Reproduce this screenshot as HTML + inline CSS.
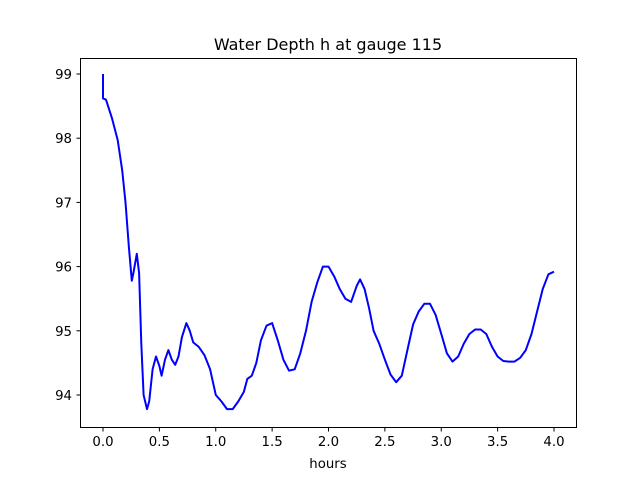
<!DOCTYPE html>
<html><head><meta charset="utf-8"><style>
body{margin:0;background:#fff}
svg text{font-family:"DejaVu Sans","Liberation Sans",sans-serif;fill:#000}
</style></head><body>
<svg id="chart" width="640" height="480" xmlns="http://www.w3.org/2000/svg">
<rect width="640" height="480" fill="#fff"/>
<text x="328" y="50" font-size="16" text-anchor="middle">Water Depth h at gauge 115</text>
<g id="xticks"></g><g id="yticks"></g>
<path id="line" fill="none" stroke="#0000ff" stroke-width="2" stroke-linejoin="round"/>
<rect x="80.5" y="58.5" width="496" height="369" fill="none" stroke="#000" stroke-width="1"/>
<text x="328" y="468" font-size="13.3" text-anchor="middle">hours</text>
</svg>
<script>
const hours=[0,0,0.027,0.08,0.13,0.17,0.2,0.23,0.255,0.27,0.3,0.32,0.34,0.36,0.39,0.41,0.44,0.47,0.5,0.52,0.55,0.58,0.61,0.64,0.67,0.7,0.74,0.77,0.8,0.85,0.9,0.95,1.0,1.05,1.1,1.15,1.2,1.25,1.28,1.32,1.36,1.4,1.45,1.5,1.55,1.6,1.65,1.7,1.75,1.8,1.85,1.9,1.95,2.0,2.05,2.1,2.15,2.2,2.25,2.28,2.32,2.36,2.4,2.45,2.5,2.55,2.6,2.65,2.7,2.75,2.8,2.85,2.9,2.95,3.0,3.05,3.1,3.15,3.2,3.25,3.3,3.35,3.4,3.45,3.5,3.55,3.6,3.65,3.7,3.75,3.8,3.85,3.9,3.95,4.0];
const depth=[99,98.62,98.6,98.31,97.97,97.5,97.0,96.3,95.78,95.9,96.2,95.9,94.8,94.0,93.78,93.9,94.4,94.6,94.45,94.3,94.55,94.7,94.55,94.47,94.6,94.9,95.12,95.0,94.82,94.75,94.62,94.4,94.0,93.9,93.78,93.78,93.9,94.05,94.25,94.3,94.5,94.85,95.08,95.12,94.85,94.55,94.38,94.4,94.65,95.0,95.45,95.75,96.0,96.0,95.85,95.65,95.5,95.45,95.7,95.8,95.65,95.35,95.0,94.8,94.55,94.32,94.2,94.3,94.7,95.1,95.3,95.42,95.42,95.25,94.95,94.65,94.52,94.6,94.8,94.95,95.02,95.02,94.95,94.75,94.6,94.53,94.52,94.52,94.58,94.7,94.95,95.3,95.65,95.88,95.92];
const xTicks=[0,0.5,1,1.5,2,2.5,3,3.5,4];
const xTickLabels=["0.0","0.5","1.0","1.5","2.0","2.5","3.0","3.5","4.0"];
const yTicks=[94,95,96,97,98,99];
const yTickLabels=["94","95","96","97","98","99"];
const X=v=>103+(v-0)*112.75;
const Y=v=>74+(99-v)*64.2;
const NS="http://www.w3.org/2000/svg";
const xg=document.getElementById('xticks'),yg=document.getElementById('yticks');
xTicks.forEach((t,i)=>{
  const l=document.createElementNS(NS,'line');
  
  
  l.setAttribute('x1',X(t));l.setAttribute('x2',X(t));l.setAttribute('y1',427.5);l.setAttribute('y2',431.5);l.setAttribute('stroke','#000');
  xg.appendChild(l);
  const tx=document.createElementNS(NS,'text');
  
  
  tx.setAttribute('x',X(t));tx.setAttribute('y',446);tx.setAttribute('font-size','13.3');tx.setAttribute('text-anchor','middle');
  tx.textContent=xTickLabels[i];xg.appendChild(tx);
});
yTicks.forEach((t,i)=>{
  const l=document.createElementNS(NS,'line');
  
  
  l.setAttribute('x1',76.5);l.setAttribute('x2',80.5);l.setAttribute('y1',Y(t));l.setAttribute('y2',Y(t));l.setAttribute('stroke','#000');
  yg.appendChild(l);
  const tx=document.createElementNS(NS,'text');
  
  
  tx.setAttribute('x',72);tx.setAttribute('y',Y(t)+5);tx.setAttribute('font-size','13.3');tx.setAttribute('text-anchor','end');
  tx.textContent=yTickLabels[i];yg.appendChild(tx);
});
document.getElementById('line').setAttribute('d',hours.map((h,i)=>(i?'L':'M')+X(h).toFixed(1)+','+Y(depth[i]).toFixed(1)).join(''));
</script>
</body></html>
